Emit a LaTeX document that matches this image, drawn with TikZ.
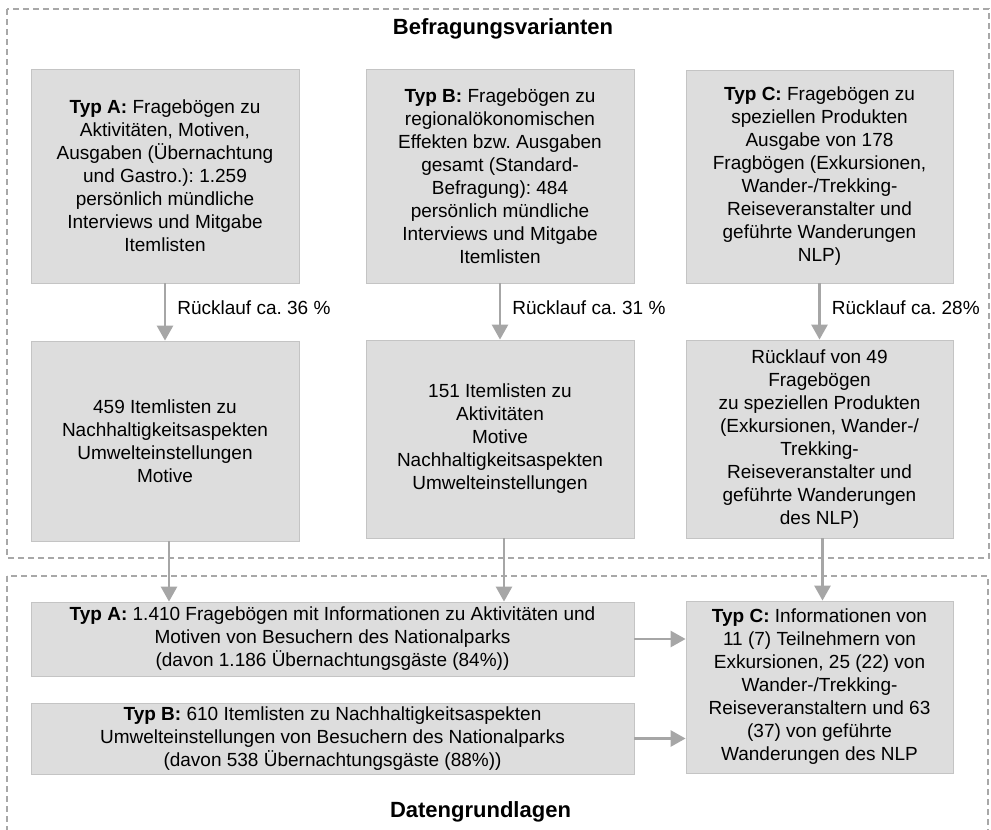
\documentclass[tikz,border=0pt]{standalone}
\usepackage{fontspec}
\setmainfont{Liberation Sans}
\usetikzlibrary{arrows.meta}
\frenchspacing

\definecolor{boxfill}{HTML}{DDDDDD}
\definecolor{boxline}{HTML}{C4C4C4}
\definecolor{arrowgray}{HTML}{A6A6A6}
\definecolor{dashgray}{HTML}{A8A8A8}

\begin{document}
\begin{tikzpicture}[x=1pt, y=-1pt,
    infobox/.style={draw=boxline, fill=boxfill, line width=0.8pt, inner sep=0pt,
      align=center, font=\fontsize{19}{23}\selectfont},
    flow/.style={-{Triangle[length=15pt, width=16pt]}, line width=2.7pt, arrowgray},
    ratelabel/.style={right, inner sep=0pt, xshift=11pt, yshift=4pt, black,
      font=\fontsize{19}{23}\selectfont},
    groupframe/.style={dashgray, line width=1.2pt, dash pattern=on 6pt off 4pt},
    heading/.style={font=\bfseries\fontsize{22}{26}\selectfont}]

        \clip (0,0) rectangle (991,830);

        % dashed frames
        \draw[groupframe] (7,9) rectangle (989,558);
        \draw[groupframe] (7,576) rectangle (988,840);

        \node[heading] (titletop) at (503,29) {Befragungsvarianten};
        \node[heading] (titlebottom) at (480.5,812) {Datengrundlagen};

        % Befragungsvarianten
        \node[infobox, minimum width=268pt, minimum height=214pt] (A1) at (165,176)
          {\textbf{Typ A:} Fragebögen zu\\Aktivitäten, Motiven,\\Ausgaben (Übernachtung\\und Gastro.): 1.259\\persönlich mündliche\\Interviews und Mitgabe\\Itemlisten};
        \node[infobox, minimum width=268pt, minimum height=214pt] (B1) at (500,176)
          {\textbf{Typ B:} Fragebögen zu\\regionalökonomischen\\Effekten bzw. Ausgaben\\gesamt (Standard-\\Befragung): 484\\persönlich mündliche\\Interviews und Mitgabe\\Itemlisten};
        \node[infobox, minimum width=267pt, minimum height=213pt] (C1) at (819.5,176.5)
          {\textbf{Typ C:} Fragebögen zu\\speziellen Produkten\\Ausgabe von 178\\Fragbögen (Exkursionen,\\Wander-/Trekking-\\Reiseveranstalter und\\geführte Wanderungen\\NLP)};

        \node[infobox, minimum width=268pt, minimum height=200pt] (A2) at (165,441)
          {459 Itemlisten zu\\Nachhaltigkeitsaspekten\\Umwelteinstellungen\\Motive};
        \node[infobox, minimum width=268pt, minimum height=198pt] (B2) at (500,439)
          {151 Itemlisten zu\\Aktivitäten\\Motive\\Nachhaltigkeitsaspekten\\Umwelteinstellungen};
        \node[infobox, minimum width=267pt, minimum height=198pt] (C2) at (819.5,439)
          {Rücklauf von 49\\Fragebögen\\zu speziellen Produkten\\(Exkursionen, Wander-/\\Trekking-\\Reiseveranstalter und\\geführte Wanderungen\\des NLP)};

        \draw[flow] (A1) -- node[ratelabel] {Rücklauf ca. 36 \%} (A2);
        \draw[flow] (B1) -- node[ratelabel] {Rücklauf ca. 31 \%} (B2);
        \draw[flow] (C1) -- node[ratelabel] {Rücklauf ca. 28\%} (C2);

        % Datengrundlagen
        \node[infobox, minimum width=603pt, minimum height=74pt] (A3) at (332.5,639)
          {\textbf{Typ A:} 1.410 Fragebögen mit Informationen zu Aktivitäten und\\Motiven von Besuchern des Nationalparks\\(davon 1.186 Übernachtungsgäste (84\%))};
        \node[infobox, minimum width=603pt, minimum height=71pt] (B3) at (332.5,738.5)
          {\textbf{Typ B:} 610 Itemlisten zu Nachhaltigkeitsaspekten\\Umwelteinstellungen von Besuchern des Nationalparks\\(davon 538 Übernachtungsgäste (88\%))};
        \node[infobox, minimum width=267pt, minimum height=172pt] (C3) at (819.5,687)
          {\textbf{Typ C:} Informationen von\\11 (7) Teilnehmern von\\Exkursionen, 25 (22) von\\Wander-/Trekking-\\Reiseveranstaltern und 63\\(37) von geführte\\Wanderungen des NLP};

        \draw[flow] ([xshift=4pt]A2.south) -- ([xshift=4pt]A2.south |- A3.north);
        \draw[flow] ([xshift=4pt]B2.south) -- ([xshift=4pt]B2.south |- A3.north);
        \draw[flow] ([xshift=3pt]C2.south) -- ([xshift=3pt]C2.south |- C3.north);

        \draw[flow] (A3.east) -- (A3.east -| C3.west);
        \draw[flow] (B3.east) -- (B3.east -| C3.west);
\end{tikzpicture}
\end{document}
